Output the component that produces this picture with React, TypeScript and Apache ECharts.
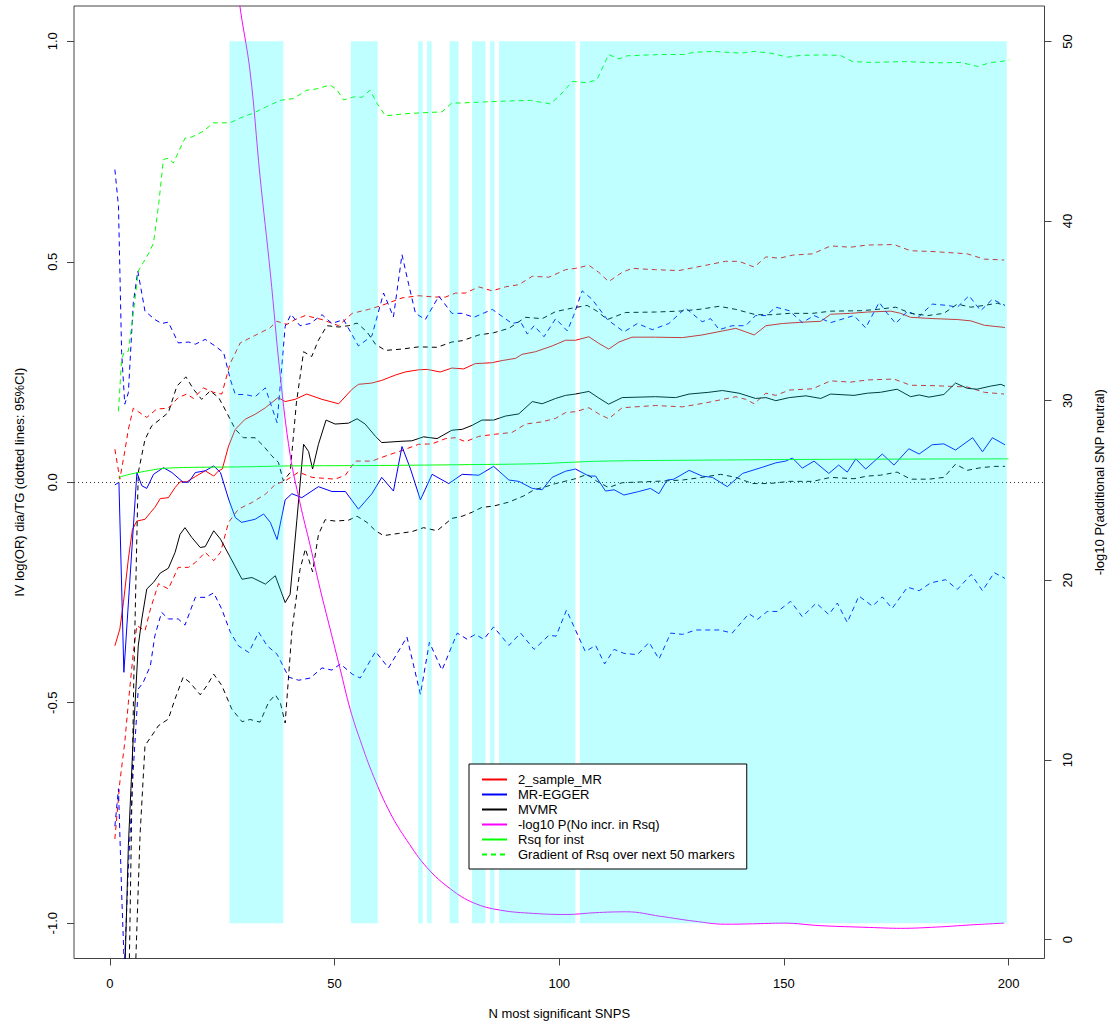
import React, { useEffect, useRef } from "react";
import * as echarts from "echarts";

// ---------- tick labels ----------
const xTicks = [0, 50, 100, 150, 200];
const yLeftTicks = [-1, -0.5, 0, 0.5, 1];
const yRightTicks = [0, 10, 20, 30, 40, 50];

// ---------- highlighted (cyan) SNP ranges ----------
const cyanRanges = [
  [26.6, 38.6], [53.6, 59.6], [68.6, 69.6], [70.6, 71.6], [75.6, 77.6],
  [80.6, 83.6], [84.6, 85.6], [86.6, 103.6], [104.6, 199.6],
];

// ---------- 2_sample_MR ----------
const mrEstimate = [
  [1.1, -0.371], [2.2, -0.333], [3, -0.273], [4.1, -0.174], [5, -0.107], [6, -0.088], [7.8, -0.084],
  [9, -0.069], [10, -0.057], [11.2, -0.037], [13, -0.035], [14.5, -0.012], [15.6, 0.001], [17.1, 0.001],
  [19, 0.013], [21.2, 0.026], [23.1, 0.014], [24.2, 0.026], [25, 0.03], [26.4, 0.082], [27.9, 0.12],
  [30.1, 0.143], [32.3, 0.154], [34.6, 0.169], [37.4, 0.192], [39, 0.183], [41.2, 0.188], [43.8, 0.2],
  [47.2, 0.188], [50.9, 0.178], [53.9, 0.211], [55.3, 0.222], [58.3, 0.225], [60.5, 0.231], [63.5, 0.243],
  [65.7, 0.25], [68.7, 0.255], [70.6, 0.256], [73.5, 0.25], [76.1, 0.259], [78.7, 0.257], [81.3, 0.269],
  [85, 0.271], [87.3, 0.276], [90.3, 0.281], [91.7, 0.29], [94.7, 0.296], [98.4, 0.309], [101.4, 0.322],
  [103.6, 0.322], [106.6, 0.33], [108.8, 0.315], [111, 0.302], [113.3, 0.318], [116.2, 0.329],
  [121.4, 0.329], [127.4, 0.328], [131.8, 0.334], [136.3, 0.343], [139.3, 0.349], [141.5, 0.341],
  [143.4, 0.334], [146, 0.355], [149.7, 0.36], [154.1, 0.363], [158.2, 0.365], [160.4, 0.381],
  [164.8, 0.383], [168.6, 0.386], [173.8, 0.388], [176, 0.383], [178.2, 0.374], [183.4, 0.371],
  [188.6, 0.369], [191.6, 0.366], [194.6, 0.356], [199.2, 0.351],
];
const mrUpper = [
  [1.1, 0.075], [2.2, 0.007], [3.3, 0.07], [4.1, 0.12], [5.2, 0.168], [6.3, 0.16], [8.2, 0.147],
  [10.4, 0.166], [13, 0.168], [15.2, 0.192], [17.1, 0.2], [18.6, 0.19], [20.8, 0.214], [23, 0.204],
  [24.9, 0.2], [26.7, 0.268], [29, 0.316], [32.7, 0.335], [35.6, 0.35], [37.1, 0.365], [39.4, 0.358],
  [41.2, 0.369], [43.5, 0.378], [47.2, 0.369], [50.9, 0.355], [53.9, 0.383], [57.6, 0.392], [60.5, 0.401],
  [65, 0.418], [68.7, 0.423], [72.4, 0.42], [74.7, 0.42], [76.9, 0.429], [79.1, 0.429], [82.1, 0.443],
  [85.1, 0.434], [88, 0.443], [91, 0.448], [94, 0.467], [97.7, 0.465], [101.4, 0.482], [103.6, 0.485],
  [106.6, 0.492], [108.8, 0.476], [111, 0.455], [114, 0.476], [116.2, 0.485], [121.4, 0.482],
  [126.6, 0.48], [132.6, 0.492], [137, 0.501], [140, 0.501], [143.4, 0.488], [146, 0.511], [149, 0.508],
  [151.9, 0.515], [156.4, 0.518], [160.4, 0.536], [164.8, 0.533], [168.6, 0.538], [174.5, 0.539],
  [178.2, 0.525], [183.4, 0.523], [190.8, 0.518], [194.6, 0.506], [199, 0.504],
];
const mrLower = [
  [1.1, -0.809], [2.2, -0.68], [3.3, -0.59], [4.1, -0.5], [5.2, -0.386], [6, -0.325], [7.8, -0.337],
  [9, -0.288], [10.8, -0.23], [13, -0.242], [15.2, -0.193], [17.5, -0.193], [19, -0.182], [21.2, -0.159],
  [23.1, -0.178], [24.6, -0.159], [26.4, -0.091], [28.6, -0.061], [31.6, -0.046], [34.6, -0.027],
  [36.8, -0.005], [39, 0.003], [42, 0.023], [45, 0.011], [50.1, 0.007], [52.4, 0.016], [54.6, 0.048],
  [58.3, 0.048], [62, 0.062], [65, 0.072], [68.7, 0.086], [71.7, 0.087], [74.7, 0.099], [76.9, 0.101],
  [79.1, 0.092], [82.1, 0.104], [85.8, 0.109], [89.5, 0.113], [92.5, 0.132], [96.2, 0.137], [99.2, 0.145],
  [101.4, 0.158], [103.6, 0.16], [106.6, 0.169], [108.8, 0.155], [111, 0.144], [114, 0.169],
  [121.4, 0.174], [127.4, 0.171], [132.6, 0.18], [139.3, 0.194], [141.5, 0.188], [143.4, 0.178],
  [146, 0.202], [148.2, 0.197], [151.2, 0.209], [156.4, 0.212], [160.4, 0.23], [164.8, 0.227],
  [168.6, 0.232], [174.5, 0.234], [178.2, 0.22], [183.4, 0.219], [190.8, 0.216], [194.6, 0.204], [199, 0.2],
];

// ---------- MR-EGGER ----------
const eggerEstimate = [
  [1.1, -0.006], [2, 0.0], [3.1, -0.431], [6, 0.022], [7.1, -0.008], [8.2, -0.014], [9.7, 0.018],
  [11.9, 0.033], [13.8, 0.022], [16.3, 0], [17.5, 0], [19, 0.022], [21.2, 0.026], [23.1, 0.037],
  [24.6, 0.022], [26.4, -0.038], [27.9, -0.08], [29.3, -0.091], [32.3, -0.084], [34.2, -0.072],
  [35.7, -0.091], [37.2, -0.13], [39, -0.04], [40.5, -0.026], [42.7, -0.035], [46.4, -0.01], [49.4, -0.021],
  [52.4, -0.021], [55.3, -0.061], [58.3, -0.026], [60.5, 0.011], [63.1, -0.02], [65, 0.081], [66.9, 0.03],
  [69.1, -0.04], [71.7, 0.018], [75.4, -0.003], [78.4, 0.018], [82.1, 0.016], [85.4, 0.036], [88.8, 0.005],
  [91, 0.002], [94, -0.014], [96.2, -0.017], [98.4, 0.011], [101.4, 0.025], [103.6, 0.03], [106.6, 0.014],
  [108.1, 0.014], [110.3, -0.02], [112.2, -0.017], [114.4, -0.029], [117.7, -0.021], [120.3, -0.014],
  [122.2, -0.026], [124, 0.005], [125.5, 0.007], [128.9, 0.027], [131.8, 0.014], [134.1, 0.011],
  [137.4, -0.01], [140.8, 0.02], [145.2, 0.034], [148.2, 0.044], [150.4, 0.048], [151.9, 0.055],
  [154.1, 0.032], [156.7, 0.048], [160, 0.02], [162.2, 0.039], [164.1, 0.023], [166, 0.053], [168.2, 0.03],
  [171.9, 0.064], [174.5, 0.039], [177.8, 0.076], [180.1, 0.064], [183, 0.085], [185.6, 0.087],
  [188.2, 0.073], [192, 0.101], [194.2, 0.069], [196.4, 0.101], [199.2, 0.085],
];
const eggerUpper = [
  [1.1, 0.709], [1.9, 0.626], [2.6, 0.294], [3.3, 0.177], [4.1, 0.203], [5.2, 0.407], [6.2, 0.479],
  [7.8, 0.388], [10, 0.369], [11.5, 0.36], [13, 0.363], [15.2, 0.316], [17.5, 0.318], [19, 0.313],
  [21.2, 0.324], [23.4, 0.309], [25.3, 0.294], [26.8, 0.233], [27.9, 0.199], [30.1, 0.199], [32.3, 0.194],
  [34.6, 0.214], [35.7, 0.18], [37.2, 0.135], [39, 0.354], [40.3, 0.381], [42.3, 0.355], [44.6, 0.36],
  [47.2, 0.38], [49.4, 0.36], [52, 0.369], [55.3, 0.309], [58.3, 0.332], [60.9, 0.429], [63.1, 0.375],
  [65, 0.516], [66.5, 0.448], [68, 0.383], [70.2, 0.369], [73.2, 0.422], [76.1, 0.383], [78.4, 0.383],
  [81, 0.374], [85.1, 0.392], [89.5, 0.36], [91.4, 0.364], [92.9, 0.336], [94.4, 0.355], [96.6, 0.33],
  [99.2, 0.371], [101.8, 0.343], [103.2, 0.378], [105.1, 0.434], [107.3, 0.415], [110.7, 0.369],
  [114.4, 0.341], [117.4, 0.36], [120.7, 0.346], [124.4, 0.36], [128.1, 0.395], [131.8, 0.364],
  [133.7, 0.371], [135.6, 0.346], [138.5, 0.355], [141.5, 0.355], [143.7, 0.378], [146, 0.378],
  [148.2, 0.397], [151.2, 0.389], [154.1, 0.362], [156.7, 0.378], [160.4, 0.362], [165.6, 0.378],
  [168.2, 0.35], [171.2, 0.408], [173, 0.383], [174.9, 0.36], [177.5, 0.388], [180.1, 0.376], [183, 0.404],
  [186.4, 0.401], [188.6, 0.397], [191.2, 0.423], [193.8, 0.389], [196.4, 0.415], [199.2, 0.401],
];
const eggerLower = [
  [1.1, -0.78], [1.9, -0.695], [2.6, -0.93], [3.2, -1.1], [4.1, -0.876], [5.2, -0.65], [6.3, -0.469],
  [7.4, -0.454], [9, -0.416], [10, -0.348], [11.5, -0.295], [13, -0.31], [15.2, -0.31], [16.7, -0.324],
  [19, -0.261], [21.2, -0.261], [23.1, -0.251], [24.9, -0.288], [26.8, -0.34], [28.6, -0.371],
  [30.9, -0.386], [33.1, -0.34], [35, -0.371], [37.2, -0.39], [39.8, -0.442], [42, -0.449], [44.6, -0.444],
  [47.2, -0.421], [49.4, -0.426], [51.3, -0.412], [53.9, -0.435], [55.7, -0.444], [59.1, -0.384],
  [62, -0.421], [66.1, -0.351], [69.1, -0.481], [71.1, -0.363], [73.9, -0.426], [77.3, -0.342],
  [79.5, -0.356], [81.3, -0.345], [83.2, -0.356], [85.4, -0.328], [88.8, -0.37], [91.4, -0.342],
  [94.4, -0.379], [97.7, -0.347], [99.3, -0.349], [101.6, -0.29], [105.8, -0.384], [108.1, -0.37],
  [110.1, -0.412], [112.2, -0.379], [114.4, -0.388], [117.4, -0.391], [120, -0.363], [122.2, -0.401],
  [124.8, -0.342], [127.4, -0.345], [130.4, -0.335], [135.6, -0.335], [138.5, -0.342], [142.2, -0.298],
  [144.1, -0.311], [146.3, -0.293], [148.6, -0.293], [151.5, -0.27], [154.1, -0.305], [157.2, -0.274],
  [160, -0.3], [161.9, -0.274], [164.1, -0.318], [166.7, -0.258], [169.7, -0.281], [171.9, -0.26],
  [174.1, -0.286], [177.5, -0.238], [180.1, -0.246], [182.7, -0.228], [186, -0.221], [188.6, -0.243],
  [191.7, -0.209], [194.2, -0.246], [196.8, -0.205], [199.2, -0.218],
];

// ---------- MVMR ----------
const mvmrEstimate = [
  [3.3, -1.12], [4.1, -0.824], [5.2, -0.575], [6.3, -0.371], [7.1, -0.31], [8.2, -0.242], [9.7, -0.227],
  [11.2, -0.206], [13, -0.195], [14.5, -0.159], [15.6, -0.118], [16.7, -0.103], [18.2, -0.125],
  [20.1, -0.148], [21.2, -0.146], [23.1, -0.11], [24.6, -0.129], [26.4, -0.163], [29.4, -0.22],
  [31.6, -0.216], [34.6, -0.231], [36.8, -0.212], [39, -0.273], [40.1, -0.254], [41.6, -0.086],
  [43.1, 0.086], [44.2, 0.07], [45.1, 0.03], [46.4, 0.086], [48.1, 0.141], [50.1, 0.132], [53.1, 0.134],
  [55, 0.144], [56.8, 0.132], [59.1, 0.104], [60.5, 0.09], [65, 0.093], [67.2, 0.094], [69.8, 0.103],
  [72.8, 0.099], [76.1, 0.118], [78.4, 0.12], [80.6, 0.129], [82.8, 0.141], [85.4, 0.141], [88, 0.15],
  [91, 0.155], [94, 0.183], [96.2, 0.178], [99.2, 0.19], [101.4, 0.197], [103.6, 0.2], [106.6, 0.206],
  [108.8, 0.191], [111, 0.177], [114, 0.192], [121.4, 0.194], [125.9, 0.192], [128.9, 0.2], [133.3, 0.204],
  [136.3, 0.208], [140, 0.202], [143.7, 0.19], [146, 0.192], [148.2, 0.185], [151.2, 0.192], [154.9, 0.196],
  [158.2, 0.19], [160.4, 0.2], [165.6, 0.197], [168.6, 0.202], [171.5, 0.204], [175.2, 0.211],
  [178.2, 0.194], [180.1, 0.198], [182.3, 0.193], [185.6, 0.199], [188.2, 0.225], [190.8, 0.213],
  [193, 0.211], [196, 0.218], [198.3, 0.222], [199.2, 0.218],
];
const mvmrUpper = [
  [4.3, -1.1], [5.3, -0.45], [6.3, 0.022], [7.8, 0.097], [9.3, 0.128], [11.2, 0.143], [13, 0.158],
  [14.9, 0.218], [16.9, 0.239], [18.6, 0.211], [20.4, 0.188], [22.3, 0.207], [24.2, 0.192], [26, 0.158],
  [27.9, 0.12], [29.7, 0.101], [32.3, 0.101], [34.2, 0.082], [36, 0.06], [37.5, 0.045], [38.6, 0.003],
  [40.1, 0.022], [41.5, 0.18], [43.1, 0.296], [44.9, 0.285], [46.4, 0.322], [48.3, 0.355], [50.9, 0.352],
  [53.1, 0.355], [55, 0.361], [57.2, 0.341], [59.1, 0.313], [61.3, 0.299], [65, 0.302], [68.7, 0.307],
  [72.8, 0.306], [76.1, 0.318], [78.4, 0.321], [82.1, 0.334], [85.4, 0.339], [88.8, 0.349], [92.5, 0.374],
  [96.2, 0.371], [99.2, 0.387], [102.9, 0.395], [106.2, 0.401], [108.4, 0.388], [110.7, 0.369],
  [114.8, 0.385], [121.4, 0.386], [126.6, 0.388], [131.1, 0.392], [135.6, 0.399], [139.3, 0.392],
  [143.7, 0.38], [147.4, 0.38], [151.2, 0.383], [156.4, 0.383], [160.4, 0.388], [167.1, 0.389],
  [170.8, 0.392], [174.9, 0.397], [178.2, 0.383], [182, 0.378], [185.6, 0.383], [188.6, 0.404],
  [191.6, 0.397], [194.6, 0.401], [197.5, 0.406], [199.2, 0.401],
];
const mvmrLower = [
  [5.7, -1.1], [6.7, -0.8], [7.8, -0.597], [9.3, -0.575], [10.8, -0.552], [13, -0.537], [14.5, -0.491],
  [16.3, -0.442], [17.8, -0.454], [20.1, -0.482], [21.6, -0.461], [23.1, -0.435], [24.9, -0.461],
  [27.1, -0.514], [29.4, -0.543], [31.2, -0.538], [33.4, -0.544], [35.3, -0.499], [36.8, -0.482],
  [37.9, -0.499], [39, -0.546], [40.5, -0.337], [42.3, -0.198], [43.5, -0.151], [45.1, -0.203],
  [46.4, -0.119], [47.9, -0.085], [50.1, -0.088], [53.1, -0.086], [55, -0.077], [57.2, -0.091],
  [59.1, -0.11], [60.9, -0.121], [64.3, -0.116], [67.2, -0.112], [69.8, -0.103], [72.8, -0.11],
  [76.1, -0.082], [78.4, -0.077], [80.6, -0.068], [82.8, -0.057], [85.4, -0.054], [88.8, -0.045],
  [92.1, -0.031], [94.4, -0.017], [97, -0.01], [99.2, -0.003], [103.6, 0.008], [106.2, 0.018],
  [108.4, 0.002], [111, -0.012], [114, -0.001], [121.4, 0.002], [127.4, 0.005], [131.8, 0.011],
  [135.9, 0.018], [139.3, 0.011], [143, -0.003], [146.7, -0.003], [151.2, 0.002], [156.4, 0.002],
  [160.4, 0.011], [165.6, 0.008], [168.6, 0.014], [171.5, 0.016], [175.2, 0.023], [178.2, 0.007],
  [182.3, 0.007], [185.6, 0.011], [188.2, 0.041], [190.8, 0.027], [193.8, 0.033], [196.8, 0.036],
  [199.2, 0.036],
];

// ---------- -log10 P (right axis) ----------
const negLogP = [
  [26.5, 57.5], [28.8, 52.2], [31.2, 48.3], [33.4, 42.5], [35.7, 37.1], [37.9, 31.4], [40.1, 27.0],
  [42.3, 24.3], [44.6, 21.9], [46.8, 19.5], [49, 17.3], [51.2, 15.1], [53.5, 12.8], [55.7, 11.1],
  [58.7, 9.07], [62.4, 7.04], [66.1, 5.52], [70.6, 4.0], [75.8, 2.82], [81, 2.04], [86.9, 1.64],
  [94.3, 1.46], [101.7, 1.4], [108, 1.5], [115, 1.55], [122.5, 1.3], [130, 1.03], [137, 0.86],
  [143, 0.88], [150, 0.92], [158, 0.78], [169, 0.68], [176, 0.63], [184, 0.7], [191.6, 0.82], [199, 0.92],
];

// ---------- Rsq ----------
const rsqInst = [
  [1.9, 0.011], [4, 0.017], [6.3, 0.022], [9, 0.027], [11.5, 0.031], [15, 0.033], [20, 0.034], [30, 0.035],
  [40, 0.037], [60, 0.038], [80, 0.04], [95, 0.042], [102, 0.045], [110, 0.048], [130, 0.05], [160, 0.052],
  [200, 0.053],
];
const rsqGradient = [
  [1.9, 0.161], [2.6, 0.28], [3.3, 0.297], [4.1, 0.297], [5.4, 0.4], [6.3, 0.479], [7.4, 0.498],
  [8.9, 0.524], [9.7, 0.543], [10.8, 0.626], [11.9, 0.732], [13, 0.735], [14.1, 0.724], [16.7, 0.78],
  [18.2, 0.783], [20.8, 0.796], [23, 0.815], [24.5, 0.815], [26.7, 0.815], [29, 0.826], [31.9, 0.837],
  [34.9, 0.852], [37.9, 0.866], [40.8, 0.87], [43.8, 0.889], [46, 0.892], [49, 0.901], [50.5, 0.89],
  [52, 0.867], [54.3, 0.874], [56.1, 0.873], [57.9, 0.889], [59.4, 0.86], [61.3, 0.831], [66.1, 0.836],
  [73.9, 0.84], [76.1, 0.86], [77.9, 0.86], [86.9, 0.864], [93.6, 0.866], [98, 0.858], [100.3, 0.879],
  [102.9, 0.909], [106.2, 0.906], [108.4, 0.913], [111, 0.97], [113.3, 0.96], [115.1, 0.967],
  [122.5, 0.97], [127.7, 0.97], [130, 0.975], [134.4, 0.977], [140.4, 0.973], [143.3, 0.977],
  [147.1, 0.973], [150.8, 0.964], [153.7, 0.968], [158.2, 0.969], [162.6, 0.968], [165.3, 0.954],
  [169.4, 0.952], [176.8, 0.954], [184.2, 0.951], [189.4, 0.952], [193.1, 0.943], [196.1, 0.952],
  [198.3, 0.954], [200.2, 0.958],
];

const legendNames = [
  "2_sample_MR",
  "MR-EGGER",
  "MVMR",
  "-log10 P(No incr. in Rsq)",
  "Rsq for inst",
  "Gradient of Rsq over next 50 markers",
];

const FONT = '"Liberation Sans", Arial, Helvetica, sans-serif';
const DASH = [5, 4];

function lineSeries(name: string, data: number[][], color: string, dashed: boolean, extra: any = {}) {
  return {
    type: "line",
    name,
    data,
    symbol: "none",
    showSymbol: false,
    silent: true,
    z: 2,
    lineStyle: { color, width: 1, type: dashed ? DASH : "solid" },
    itemStyle: { color },
    ...extra,
  };
}

export default function App() {
  const ref = useRef<HTMLDivElement>(null);

  useEffect(() => {
    document.body.style.margin = "0";
    if (!ref.current) return;
    const chart = echarts.init(ref.current, null, { renderer: "svg" });

    const axisText = { fontSize: 13, color: "#000", fontFamily: FONT };
    const centered = { align: "center", verticalAlign: "middle" };
    const tickStyle = { color: "#444", width: 1 };
    const option: any = {
      animation: false,
      backgroundColor: "#fff",
      textStyle: { fontFamily: FONT },
      grid: {
        left: 74,
        top: 6,
        right: 69,
        bottom: 63,
        show: true,
        borderColor: "#444",
        borderWidth: 1,
        backgroundColor: "transparent",
      },
      legend: {
        data: legendNames,
        orient: "vertical",
        left: 469,
        top: 764,
        backgroundColor: "#fff",
        borderColor: "#000",
        borderWidth: 1,
        borderRadius: 0,
        padding: [9, 12, 8, 12],
        itemWidth: 25,
        itemHeight: 14,
        itemGap: 2,
        selectedMode: false,
        itemStyle: { color: "transparent", borderColor: "transparent", borderWidth: 0, opacity: 0 },
        textStyle: { fontSize: 13, color: "#000", fontFamily: FONT, padding: [0, 0, 0, 6] },
        z: 10,
      },
      xAxis: {
        type: "value",
        min: -8,
        max: 208,
        name: "N most significant SNPS",
        nameLocation: "middle",
        nameGap: 55,
        nameTextStyle: { ...axisText, ...centered },
        axisLine: { show: false, onZero: false },
        splitLine: { show: false },
        axisTick: { show: true, customValues: xTicks, length: 7, lineStyle: tickStyle },
        axisLabel: { customValues: xTicks, margin: 25, ...axisText, ...centered },
      },
      yAxis: [
        {
          type: "value",
          position: "left",
          min: -1.08,
          max: 1.08,
          name: "IV log(OR) dia/TG (dotted lines: 95%CI)",
          nameLocation: "middle",
          nameRotate: 90,
          nameGap: 55,
          nameTextStyle: { ...axisText, ...centered },
          axisLine: { show: false, onZero: false },
          splitLine: { show: false },
          axisTick: { show: true, customValues: yLeftTicks, length: 7, lineStyle: tickStyle },
          axisLabel: {
            customValues: yLeftTicks,
            rotate: 90,
            margin: 22,
            formatter: (v: number) => v.toFixed(1),
            ...axisText,
            ...centered,
          },
        },
        {
          type: "value",
          position: "right",
          min: -1.05,
          max: 51.97,
          name: "-log10 P(additional SNP neutral)",
          nameLocation: "middle",
          nameRotate: 90,
          nameGap: 55,
          nameTextStyle: { ...axisText, ...centered },
          axisLine: { show: false, onZero: false },
          splitLine: { show: false },
          axisTick: { show: true, customValues: yRightTicks, length: 7, lineStyle: tickStyle },
          axisLabel: { customValues: yRightTicks, rotate: 90, margin: 23, ...axisText, ...centered },
        },
      ],
      series: [
        lineSeries("2_sample_MR", mrEstimate, "#ff0000", false, {
          markLine: {
            silent: true,
            symbol: "none",
            label: { show: false },
            lineStyle: { color: "#333", type: [1, 3], width: 1 },
            data: [{ yAxis: 0 }],
          },
        }),
        lineSeries("2_sample_MR upper", mrUpper, "#ff0000", true),
        lineSeries("2_sample_MR lower", mrLower, "#ff0000", true),
        lineSeries("MR-EGGER", eggerEstimate, "#0000ff", false),
        lineSeries("MR-EGGER upper", eggerUpper, "#0000ff", true),
        lineSeries("MR-EGGER lower", eggerLower, "#0000ff", true),
        lineSeries("MVMR", mvmrEstimate, "#000000", false),
        lineSeries("MVMR upper", mvmrUpper, "#000000", true),
        lineSeries("MVMR lower", mvmrLower, "#000000", true),
        lineSeries("-log10 P(No incr. in Rsq)", negLogP, "#ff00ff", false, { yAxisIndex: 1, smooth: 0.4 }),
        lineSeries("Rsq for inst", rsqInst, "#00ff00", false, { smooth: 0.4 }),
        lineSeries("Gradient of Rsq over next 50 markers", rsqGradient, "#00ff00", true),
        {
          type: "custom",
          name: "highlight",
          silent: true,
          z: 5,
          xAxisIndex: 0,
          yAxisIndex: 0,
          data: cyanRanges,
          encode: { x: [0, 1] },
          renderItem: (_params: any, api: any) => {
            const p0 = api.coord([api.value(0), 1]);
            const p1 = api.coord([api.value(1), -1]);
            return {
              type: "rect",
              shape: { x: p0[0], y: p0[1], width: p1[0] - p0[0], height: p1[1] - p0[1] },
              style: { fill: "rgba(0,255,255,0.25)" },
            };
          },
        },
      ],
    };
    chart.setOption(option);
    return () => chart.dispose();
  }, []);

  return (
    <div
      ref={ref}
      style={{ position: "fixed", left: 0, top: 0, width: 1114, height: 1025, background: "#fff" }}
    />
  );
}
